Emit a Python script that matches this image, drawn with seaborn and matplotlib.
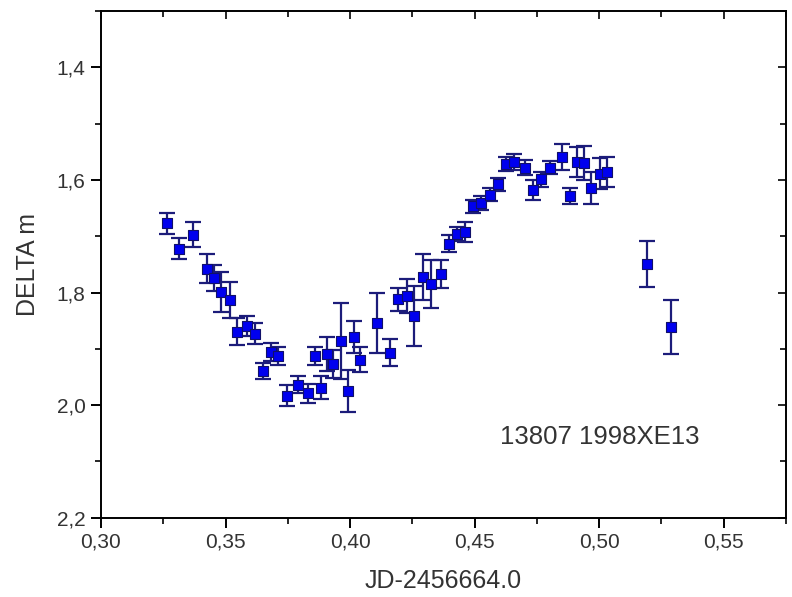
import matplotlib
matplotlib.use("Agg")
import matplotlib.pyplot as plt
import seaborn as sns
import numpy as np
import pandas as pd
from matplotlib.ticker import MultipleLocator, FuncFormatter

jd = [0.3266, 0.3314, 0.3370, 0.3424, 0.3455, 0.3482, 0.3518, 0.3547, 0.3585, 0.3618,
      0.3651, 0.3682, 0.3711, 0.3748, 0.3792, 0.3832, 0.3859, 0.3882, 0.3908, 0.3931,
      0.3964, 0.3990, 0.4016, 0.4041, 0.4108, 0.4159, 0.4194, 0.4227, 0.4258, 0.4292,
      0.4326, 0.4364, 0.4398, 0.4431, 0.4461, 0.4494, 0.4525, 0.4561, 0.4594, 0.4626,
      0.4657, 0.4701, 0.4735, 0.4768, 0.4802, 0.4851, 0.4881, 0.4912, 0.4940, 0.4969,
      0.5002, 0.5030, 0.5194, 0.5290]
delta_m = [1.677, 1.722, 1.697, 1.758, 1.775, 1.799, 1.814, 1.870, 1.860, 1.873,
           1.939, 1.906, 1.913, 1.983, 1.964, 1.979, 1.913, 1.969, 1.909, 1.927,
           1.886, 1.975, 1.879, 1.919, 1.854, 1.907, 1.812, 1.806, 1.842, 1.772,
           1.785, 1.767, 1.713, 1.696, 1.693, 1.647, 1.641, 1.626, 1.608, 1.572,
           1.568, 1.578, 1.618, 1.599, 1.578, 1.559, 1.629, 1.568, 1.570, 1.614,
           1.589, 1.586, 1.749, 1.862]
err = [0.019, 0.018, 0.022, 0.026, 0.023, 0.035, 0.032, 0.024, 0.018, 0.018,
       0.014, 0.016, 0.016, 0.018, 0.015, 0.017, 0.016, 0.020, 0.030, 0.025,
       0.067, 0.037, 0.028, 0.023, 0.053, 0.024, 0.020, 0.030, 0.053, 0.041,
       0.042, 0.025, 0.015, 0.013, 0.018, 0.012, 0.012, 0.012, 0.012, 0.013,
       0.014, 0.014, 0.017, 0.013, 0.012, 0.023, 0.014, 0.027, 0.030, 0.028,
       0.028, 0.026, 0.041, 0.048]

x_ticks = [0.30, 0.35, 0.40, 0.45, 0.50, 0.55]
y_ticks = [1.4, 1.6, 1.8, 2.0, 2.2]
annotation = "13807 1998XE13"

df = pd.DataFrame({"jd": jd, "dm": delta_m, "err": err})

sns.set_style("white")
plt.rcParams["font.family"] = ["Liberation Sans", "DejaVu Sans"]

fig = plt.figure(figsize=(7.92, 5.97), dpi=100)
ax = fig.add_axes([0.1275, 0.1328, 0.9924 - 0.1275, 0.9816 - 0.1328])

ax.errorbar(df["jd"], df["dm"], yerr=df["err"], fmt="none", ecolor="#1c1c7a",
            elinewidth=1.6, capsize=5.5, capthick=1.6, zorder=2)
sns.scatterplot(data=df, x="jd", y="dm", marker="s", s=58, color="#0000ee",
                edgecolor="#10106a", linewidth=0.8, ax=ax, zorder=3)

ax.set_xlim(0.30, 0.575)
ax.set_ylim(2.2, 1.30)
ax.set_xticks(x_ticks)
ax.set_yticks(y_ticks)
ax.xaxis.set_minor_locator(MultipleLocator(0.025))
ax.yaxis.set_minor_locator(MultipleLocator(0.1))

fmt2 = FuncFormatter(lambda v, p: f"{v:.2f}".replace(".", ","))
fmt1 = FuncFormatter(lambda v, p: f"{v:.1f}".replace(".", ","))
ax.xaxis.set_major_formatter(fmt2)
ax.yaxis.set_major_formatter(fmt1)

for s in ax.spines.values():
    s.set_visible(True)
    s.set_color("black")
    s.set_linewidth(1.4)

ax.tick_params(axis="both", which="major", direction="out", length=7, width=1.4,
               labelsize=15, colors="black", labelcolor="#333333", pad=4,
               bottom=True, left=True, top=False, right=False)
ax.tick_params(axis="both", which="minor", direction="out", length=4.5, width=1.4,
               bottom=True, left=True, top=False, right=False)

# inward ticks on the top and right spines
axt = ax.secondary_xaxis("top")
axt.set_xticks(x_ticks)
axt.xaxis.set_minor_locator(MultipleLocator(0.025))
axt.tick_params(which="major", direction="in", length=6, width=1.4, labeltop=False)
axt.tick_params(which="minor", direction="in", length=4, width=1.4)
axt.spines["top"].set_visible(False)
axr = ax.secondary_yaxis("right")
axr.set_yticks(y_ticks)
axr.yaxis.set_minor_locator(MultipleLocator(0.1))
axr.tick_params(which="major", direction="in", length=6, width=1.4, labelright=False)
axr.tick_params(which="minor", direction="in", length=4, width=1.4)
axr.spines["right"].set_visible(False)

ax.set_xlabel("JD-2456664.0", fontsize=18, color="#333333", labelpad=12)
ax.set_ylabel("DELTA m", fontsize=18, color="#333333", labelpad=12)

ax.text(0.4601, 2.057, annotation, fontsize=18.5, color="#333333", va="center", ha="left")

fig.savefig("out.png", dpi=100)
